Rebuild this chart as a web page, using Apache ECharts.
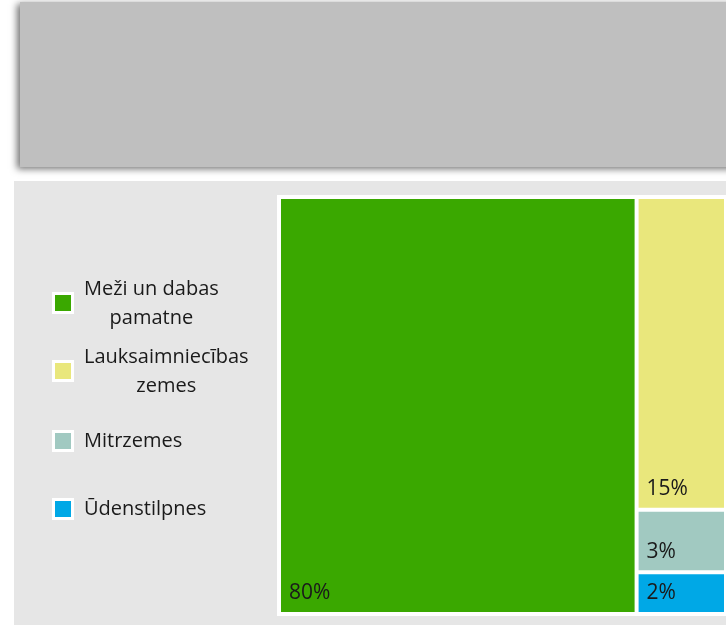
<!DOCTYPE html>
<html>
<head>
<meta charset="utf-8">
<script src="https://cdn.jsdelivr.net/npm/echarts@6/dist/echarts.min.js"></script>
<style>
  html, body { margin: 0; padding: 0; background: #fff; }
  #main { width: 726px; height: 625px; }
</style>
</head>
<body>
<div id="main"></div>
<script>
// land cover shares, %
const categories = ['Meži un dabas\npamatne', 'Lauksaimniecības\nzemes', 'Mitrzemes', 'Ūdenstilpnes'];
const values = [80, 15, 3, 2];
const colors = ['#3aa800', '#e9e77c', '#a1c9c1', '#00a8e6'];

const FONT = '"Open Sans", sans-serif';
const legendY = [303, 371, 441, 509]; // square centres

const chart = echarts.init(document.getElementById('main'));

// measure first line so the 2nd line can be centred under it
const ctx = document.createElement('canvas').getContext('2d');
ctx.font = '20px "Open Sans"';

const legendGraphics = [];
categories.forEach((name, i) => {
  const y = legendY[i];
  legendGraphics.push({
    type: 'rect',
    shape: { x: 52, y: y - 11, width: 22, height: 22 },
    style: { fill: '#fff' }
  });
  legendGraphics.push({
    type: 'rect',
    shape: { x: 55, y: y - 8, width: 16, height: 16 },
    style: { fill: colors[i] }
  });
  const lines = name.split('\n');
  const w = ctx.measureText(lines[0]).width;
  legendGraphics.push({
    type: 'text',
    x: 84 + w / 2,
    y: lines.length > 1 ? y + 1 : y,
    style: {
      text: name,
      font: '20px ' + FONT,
      fill: '#1a1a1a',
      align: 'center',
      verticalAlign: 'middle',
      lineHeight: 29
    }
  });
});

const option = {
  animation: false,
  graphic: [
    {
      type: 'rect', z: -10,
      shape: { x: 20, y: 2, width: 720, height: 165 },
      style: {
        fill: '#bfbfbf',
        shadowColor: 'rgba(0,0,0,0.55)',
        shadowBlur: 7,
        shadowOffsetX: -3,
        shadowOffsetY: 2
      }
    },
    {
      type: 'rect', z: -10,
      shape: { x: 14, y: 181, width: 720, height: 450 },
      style: { fill: '#e6e6e6' }
    },
    ...legendGraphics
  ],
  series: [
    {
      type: 'treemap',
      left: 277,
      top: 195,
      width: 451,
      height: 421,
      roam: false,
      nodeClick: false,
      squareRatio: 1,
      breadcrumb: { show: false },
      label: {
        show: true,
        position: 'insideBottomLeft',
        distance: 3,
        formatter: '{c}%',
        color: '#1a1a1a',
        fontSize: 21,
        fontFamily: FONT
      },
      levels: [
        { itemStyle: { borderWidth: 4, borderColor: '#fff', gapWidth: 4 } },
        { itemStyle: { borderWidth: 0 } }
      ],
      data: values.map((v, i) => ({
        name: categories[i],
        value: v,
        itemStyle: { color: colors[i] }
      }))
    }
  ]
};

chart.setOption(option);
</script>
</body>
</html>
